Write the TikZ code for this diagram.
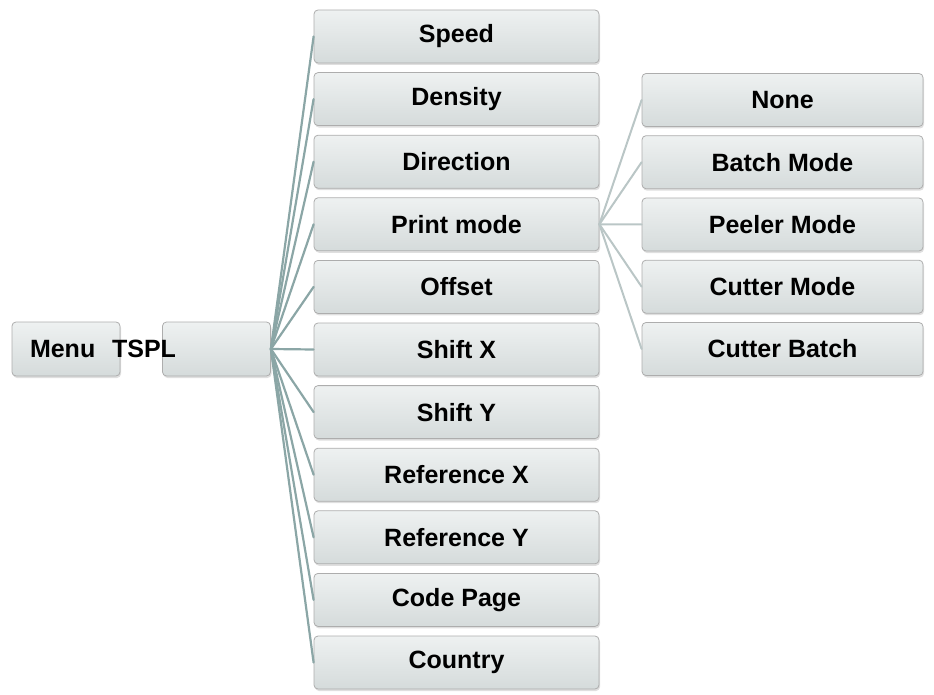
\documentclass[tikz,border=0pt]{standalone}
\usepackage{fontspec}
\setmainfont{Liberation Sans}
\usetikzlibrary{shadows}

\definecolor{boxtop}{HTML}{EEF1F1}
\definecolor{boxbottom}{HTML}{D5DBDB}
\begin{document}
\begin{tikzpicture}[x=1pt,y=-1pt,line cap=round,line join=round,
  menubox/.style={draw=black!32,line width=0.8pt,rounded corners=4pt,top color=boxtop,bottom color=boxbottom,drop shadow={shadow xshift=1pt,shadow yshift=-2pt,opacity=0.25},inner sep=0pt,font=\bfseries\fontsize{25}{29}\selectfont},
  itembox/.style={menubox,minimum width=285pt,minimum height=53pt},
  modebox/.style={menubox,minimum width=281pt,minimum height=53pt},
  fanline/.style={draw=teal!30!gray!70,line width=2.2pt},
  modeline/.style={draw=teal!20!gray!45,line width=2pt}]
\useasboundingbox (0,0) rectangle (934,695);
\node[menubox,minimum width=108pt,minimum height=54pt,text depth=0pt,align=left,text width=100pt] (menu) at (66,349) {\hspace*{14pt}Menu};
\node[menubox,minimum width=108pt,minimum height=54pt] (tspl) at (216.5,349) {};
\node[inner sep=0pt,font=\bfseries\fontsize{25}{29}\selectfont] (tsplname) at (144,349) {TSPL};
\node[itembox] (speed) at (456.5,36.5) {Speed};
\node[itembox] (density) at (456.5,99.1) {Density};
\node[itembox] (direction) at (456.5,161.7) {Direction};
\node[itembox] (printmode) at (456.5,224.3) {Print mode};
\node[itembox] (offset) at (456.5,286.9) {Offset};
\node[itembox] (shiftx) at (456.5,349.5) {Shift X};
\node[itembox] (shifty) at (456.5,412.1) {Shift Y};
\node[itembox] (refx) at (456.5,474.7) {Reference X};
\node[itembox] (refy) at (456.5,537.3) {Reference Y};
\node[itembox] (codepage) at (456.5,599.9) {Code Page};
\node[itembox] (country) at (456.5,662.5) {Country};
\node[modebox] (none) at (782.5,100) {None};
\node[modebox] (batch) at (782.5,162.2) {Batch Mode};
\node[modebox] (peeler) at (782.5,224.5) {Peeler Mode};
\node[modebox] (cutter) at (782.5,286.7) {Cutter Mode};
\node[modebox] (cutterbatch) at (782.5,349) {Cutter Batch};
\draw[fanline] (tspl.east) -- (speed.west);
\draw[fanline] (tspl.east) -- (density.west);
\draw[fanline] (tspl.east) -- (direction.west);
\draw[fanline] (tspl.east) -- (printmode.west);
\draw[fanline] (tspl.east) -- (offset.west);
\draw[fanline] (tspl.east) -- (shiftx.west);
\draw[fanline] (tspl.east) -- (shifty.west);
\draw[fanline] (tspl.east) -- (refx.west);
\draw[fanline] (tspl.east) -- (refy.west);
\draw[fanline] (tspl.east) -- (codepage.west);
\draw[fanline] (tspl.east) -- (country.west);
\draw[modeline] (printmode.east) -- (none.west);
\draw[modeline] (printmode.east) -- (batch.west);
\draw[modeline] (printmode.east) -- (peeler.west);
\draw[modeline] (printmode.east) -- (cutter.west);
\draw[modeline] (printmode.east) -- (cutterbatch.west);
\end{tikzpicture}
\end{document}
